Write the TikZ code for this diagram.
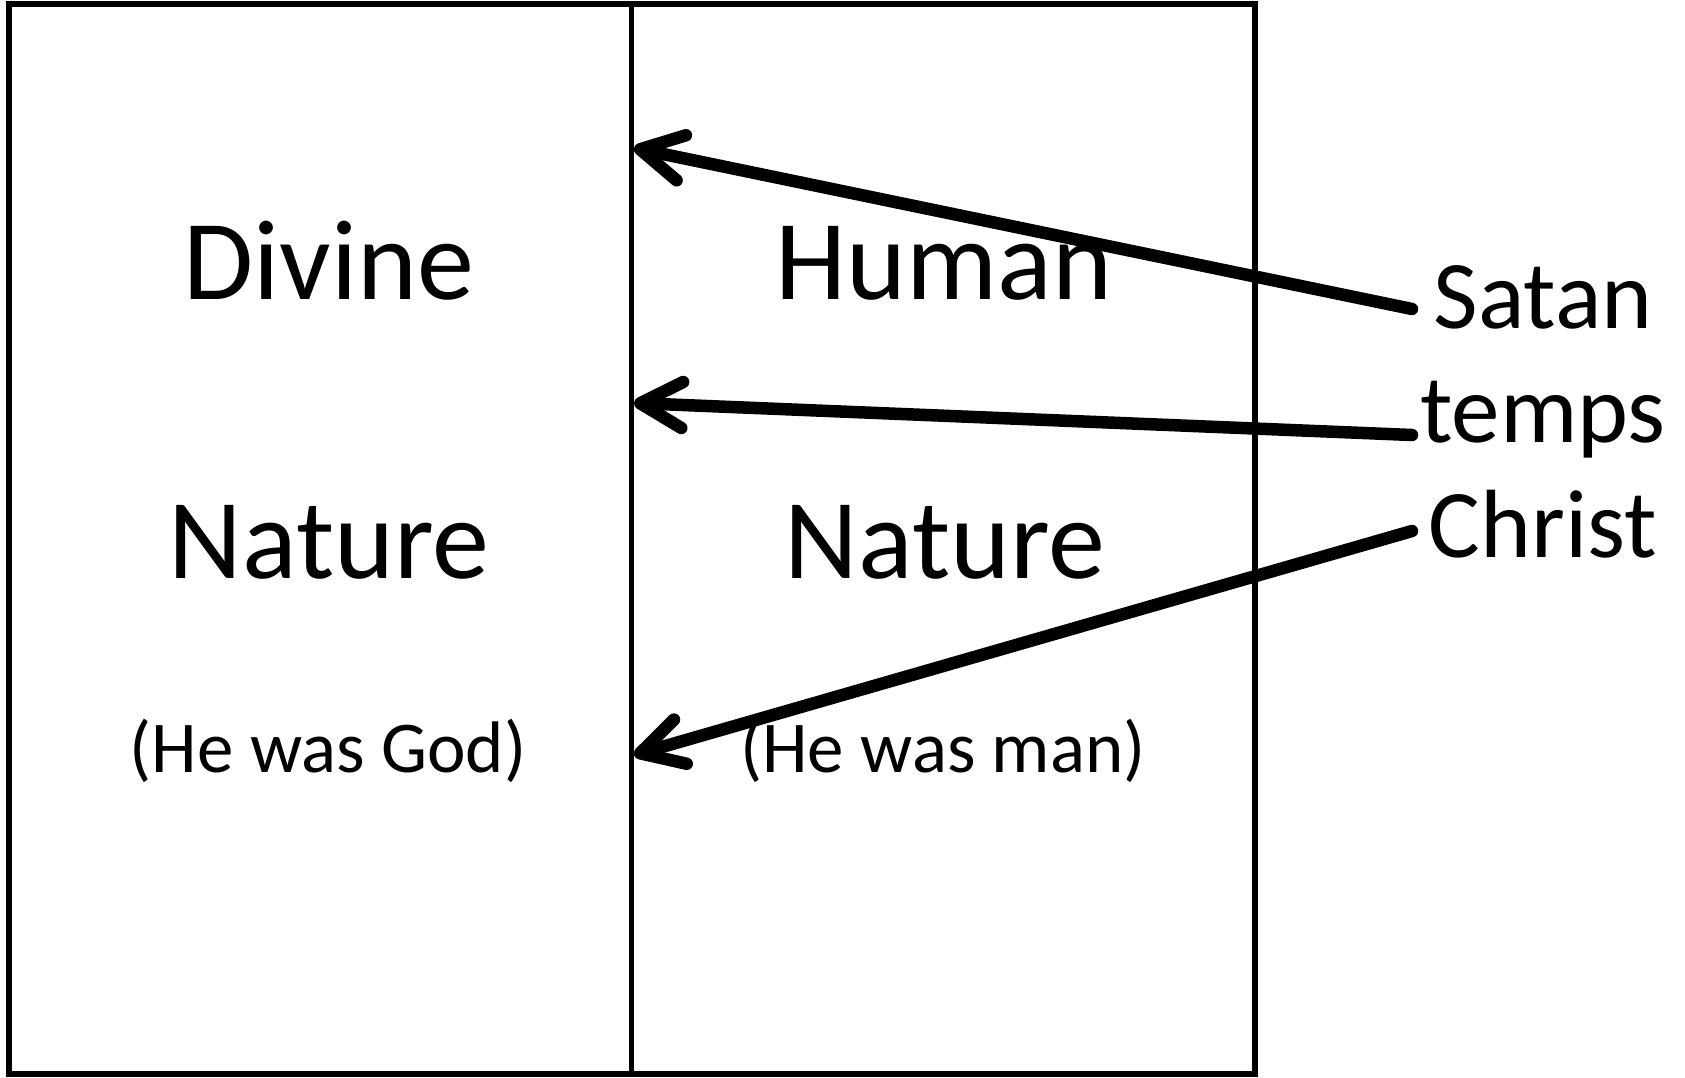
\documentclass[tikz,border=0pt]{standalone}
\usepackage{fontspec}
\setmainfont{Carlito}
\usetikzlibrary{arrows.meta}
\begin{document}
\begin{tikzpicture}[x=1pt,y=-1pt,
  big/.style={font=\fontsize{114}{136}\selectfont, anchor=base, inner sep=0pt},
  small/.style={font=\fontsize{73}{86}\selectfont, anchor=base, inner sep=0pt},
  side/.style={font=\fontsize{97}{115}\selectfont, anchor=base, inner sep=0pt},
  frame/.style={draw=black, line width=5.5pt},
  tempt/.style={draw=black, line width=12.5pt, line cap=round, line join=round,
    -{Straight Barb[round, length=42pt, width=46pt, line width=12.5pt]}}]
\useasboundingbox (0,0) rectangle (1685,1077);
\draw[frame] (9,4) rectangle (1255,1074);
\draw[frame] (631.5,4) -- (631.5,1074);
\node[big] (divine) at (329,299) {Divine};
\node[big] (natL) at (329,578) {Nature};
\node[small] (god) at (328,772) {(He was God)};
\node[big] (human) at (944,299) {Human};
\node[big] (natR) at (945,578) {Nature};
\node[small] (man) at (943,772) {(He was man)};
\node[side] (satan) at (1543,328) {Satan};
\node[side] (temps) at (1543,442) {temps};
\node[side] (christ) at (1543,557) {Christ};
\coordinate (s1) at (1412,309);
\coordinate (s2) at (1412,435);
\coordinate (s3) at (1412,531);
\coordinate (t1) at (634,148);
\coordinate (t2) at (634,403);
\coordinate (t3) at (634,755);
\draw[tempt] (s1) -- (t1);
\draw[tempt] (s2) -- (t2);
\draw[tempt] (s3) -- (t3);
\end{tikzpicture}
\end{document}
